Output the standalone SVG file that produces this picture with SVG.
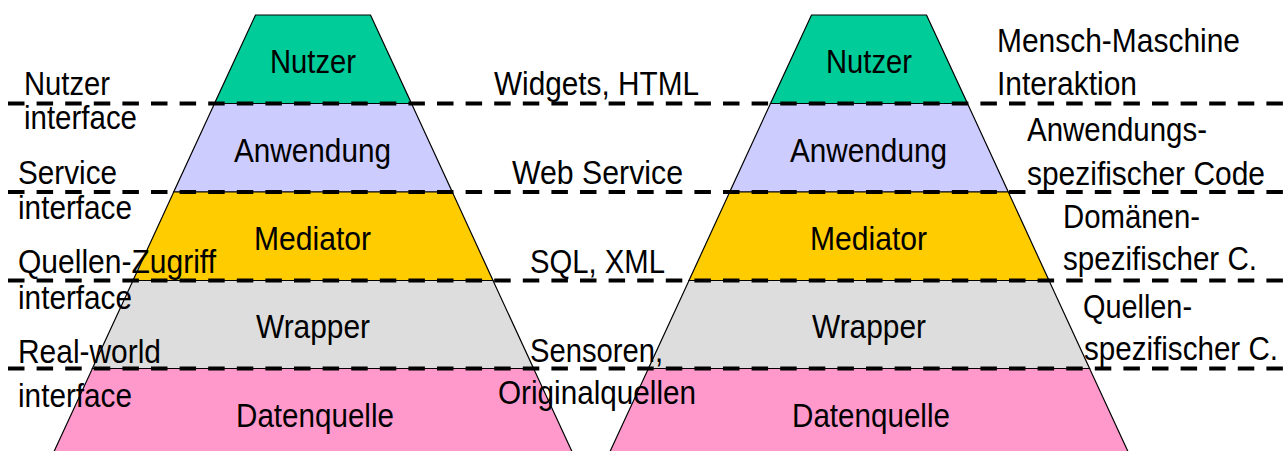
<svg xmlns="http://www.w3.org/2000/svg" width="1286" height="451" viewBox="0 0 1286 451">
<style>
text{font-family:"Liberation Sans Narrow","Liberation Sans",Arial,sans-serif;font-size:34px;fill:#000}
.c{text-anchor:middle}
.layer{stroke:#000;stroke-width:1.2}
.l1{fill:#00CC99}.l2{fill:#CCCCFF}.l3{fill:#FFCC00}.l4{fill:#DDDDDD}.l5{fill:#FF99CC}
.dash{stroke:#000;stroke-width:4;stroke-dasharray:16.5 12.1;fill:none}
</style>
<rect width="1286" height="451" fill="#fff"/>
<g id="pyramid-left">
<g id="left-nutzer"><polygon class="layer l1" points="255.5,15 370.5,15 411.5,103.5 214.5,103.5"/><text class="c" x="313" y="73" textLength="86" lengthAdjust="spacingAndGlyphs">Nutzer</text></g>
<g id="left-anwendung"><polygon class="layer l2" points="214.5,103.5 411.5,103.5 452.3,192 173.7,192"/><text class="c" x="312.5" y="162" textLength="157" lengthAdjust="spacingAndGlyphs">Anwendung</text></g>
<g id="left-mediator"><polygon class="layer l3" points="173.7,192 452.3,192 493,280.5 133,280.5"/><text class="c" x="312.5" y="250" textLength="117" lengthAdjust="spacingAndGlyphs">Mediator</text></g>
<g id="left-wrapper"><polygon class="layer l4" points="133,280.5 493,280.5 533.6,368.5 92.4,368.5"/><text class="c" x="313" y="338" textLength="114" lengthAdjust="spacingAndGlyphs">Wrapper</text></g>
<g id="left-datenquelle"><polygon class="layer l5" points="92.4,368.5 533.6,368.5 574.5,457 51.5,457"/><text class="c" x="315" y="427" textLength="158" lengthAdjust="spacingAndGlyphs">Datenquelle</text></g>
</g>
<g id="pyramid-right">
<g id="right-nutzer"><polygon class="layer l1" points="811.5,15 926.5,15 967.5,103.5 770.5,103.5"/><text class="c" x="869" y="73" textLength="86" lengthAdjust="spacingAndGlyphs">Nutzer</text></g>
<g id="right-anwendung"><polygon class="layer l2" points="770.5,103.5 967.5,103.5 1008.3,192 729.7,192"/><text class="c" x="868.5" y="162" textLength="157" lengthAdjust="spacingAndGlyphs">Anwendung</text></g>
<g id="right-mediator"><polygon class="layer l3" points="729.7,192 1008.3,192 1049,280.5 689,280.5"/><text class="c" x="868.5" y="250" textLength="117" lengthAdjust="spacingAndGlyphs">Mediator</text></g>
<g id="right-wrapper"><polygon class="layer l4" points="689,280.5 1049,280.5 1089.6,368.5 648.4,368.5"/><text class="c" x="869" y="338" textLength="114" lengthAdjust="spacingAndGlyphs">Wrapper</text></g>
<g id="right-datenquelle"><polygon class="layer l5" points="648.4,368.5 1089.6,368.5 1130.5,457 607.5,457"/><text class="c" x="871" y="427" textLength="158" lengthAdjust="spacingAndGlyphs">Datenquelle</text></g>
</g>
<g id="connectors">
<line class="dash" x1="8" y1="103.5" x2="1286" y2="103.5"/>
<line class="dash" x1="8" y1="192" x2="1286" y2="192"/>
<line class="dash" x1="8" y1="280.5" x2="1286" y2="280.5"/>
<line class="dash" x1="8" y1="368.5" x2="1286" y2="368.5"/>
</g>
<g id="labels-left">
<text x="24" y="95" textLength="86" lengthAdjust="spacingAndGlyphs">Nutzer</text>
<text x="24" y="129" textLength="113" lengthAdjust="spacingAndGlyphs">interface</text>
<text x="18" y="184" textLength="99" lengthAdjust="spacingAndGlyphs">Service</text>
<text x="18" y="219" textLength="114" lengthAdjust="spacingAndGlyphs">interface</text>
<text x="18" y="273" textLength="198" lengthAdjust="spacingAndGlyphs">Quellen-Zugriff</text>
<text x="18" y="309" textLength="114" lengthAdjust="spacingAndGlyphs">interface</text>
<text x="18" y="363" textLength="143" lengthAdjust="spacingAndGlyphs">Real-world</text>
<text x="18" y="407" textLength="114" lengthAdjust="spacingAndGlyphs">interface</text>
</g>
<g id="labels-middle">
<text x="494" y="95" textLength="205" lengthAdjust="spacingAndGlyphs">Widgets, HTML</text>
<text x="512" y="184" textLength="171" lengthAdjust="spacingAndGlyphs">Web Service</text>
<text x="530" y="273" textLength="135" lengthAdjust="spacingAndGlyphs">SQL, XML</text>
<text x="530" y="362" textLength="133" lengthAdjust="spacingAndGlyphs">Sensoren,</text>
<text x="498" y="404" textLength="198" lengthAdjust="spacingAndGlyphs">Originalquellen</text>
</g>
<g id="labels-right">
<text x="997" y="52" textLength="243" lengthAdjust="spacingAndGlyphs">Mensch-Maschine</text>
<text x="997" y="95" textLength="140" lengthAdjust="spacingAndGlyphs">Interaktion</text>
<text x="1027" y="141" textLength="180" lengthAdjust="spacingAndGlyphs">Anwendungs-</text>
<text x="1027" y="185" textLength="238" lengthAdjust="spacingAndGlyphs">spezifischer Code</text>
<text x="1063" y="228" textLength="137" lengthAdjust="spacingAndGlyphs">Domänen-</text>
<text x="1063" y="270" textLength="194" lengthAdjust="spacingAndGlyphs">spezifischer C.</text>
<text x="1083" y="318" textLength="109" lengthAdjust="spacingAndGlyphs">Quellen-</text>
<text x="1084" y="360" textLength="194" lengthAdjust="spacingAndGlyphs">spezifischer C.</text>
</g>
</svg>
